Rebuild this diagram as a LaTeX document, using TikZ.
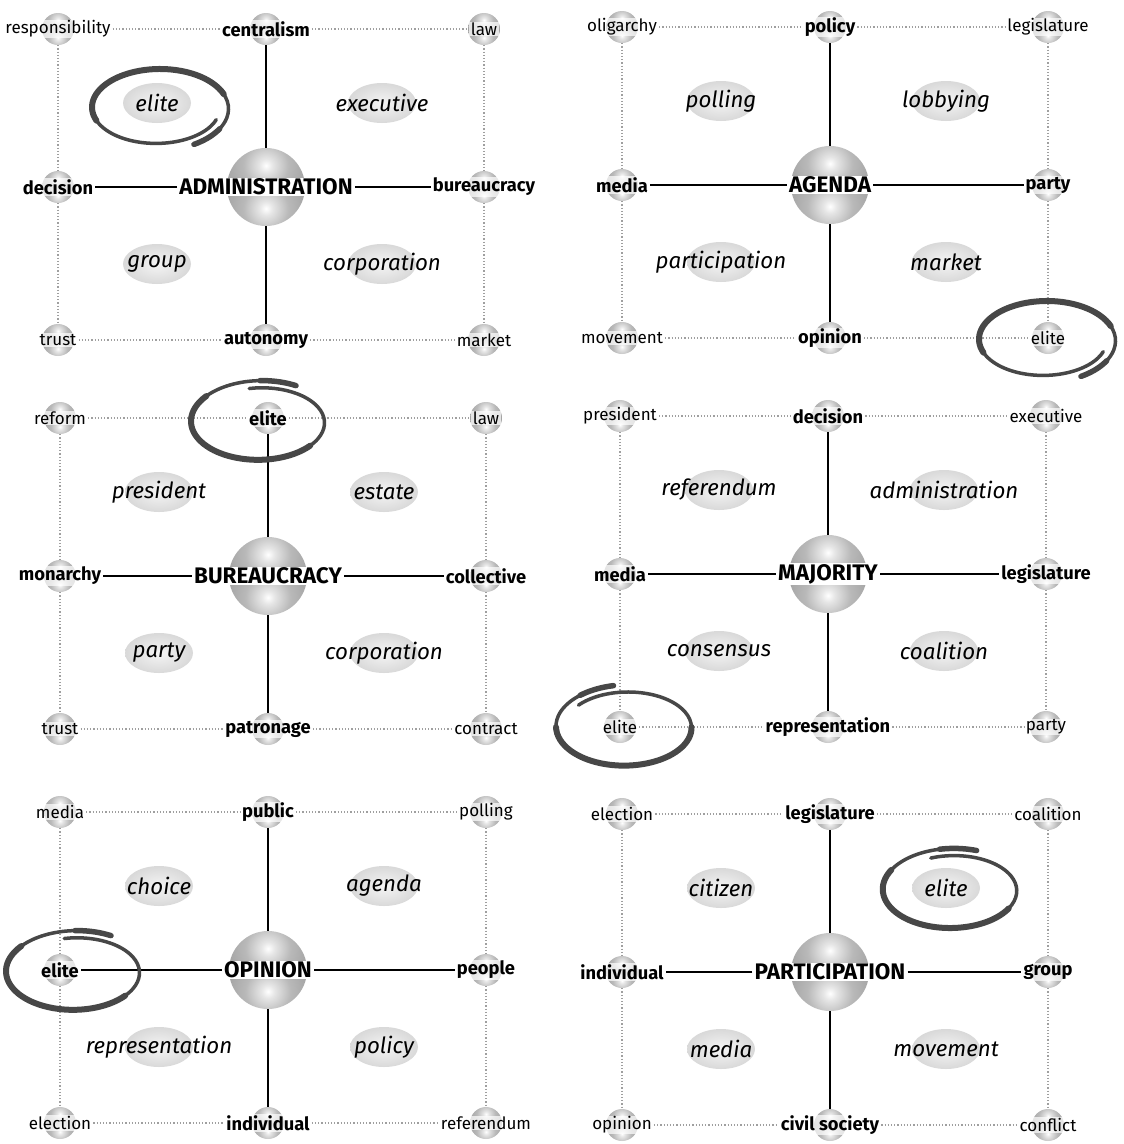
\documentclass[tikz,border=0pt]{standalone}
\usepackage{fontspec}
\setmainfont{Fira Sans}
\usetikzlibrary{calc,shapes.geometric}

% sphere lobe shading (one lobe above, one below the equator)
\pgfdeclareradialshading{glowball}{\pgfpoint{0bp}{0bp}}{color(0bp)=(white); color(3bp)=(white!80!gray); color(10bp)=(gray!55); color(20bp)=(gray!75); color(30bp)=(gray!90); color(50bp)=(gray!95)}

% sphere + label at one spot
\newcommand{\spot}[5]{%
  \node[#3] (#1b) at #2 {};
  \node[#4] (#1)  at #2 {#5};}

% centre, four spokes: #1 name, #2 position, #3 centre, #4 top, #5 right, #6 bottom, #7 left
\newcommand{\panel}[7]{%
  \coordinate (#1) at #2;
  \spot{#1c}{(#1)}{bigorb}{hw}{#3}
  \spot{#1n}{([shift={(0,-158)}]#1)}{orb}{kw}{#4}
  \spot{#1e}{([shift={(218,0)}]#1)}{orb}{kw}{#5}
  \spot{#1s}{([shift={(0,153)}]#1)}{orb}{kw}{#6}
  \spot{#1w}{([shift={(-208,0)}]#1)}{orb}{kw}{#7}
  \draw[spoke] (#1cb) -- (#1nb);
  \draw[spoke] (#1cb) -- (#1sb);
  \draw[spoke] (#1c) -- (#1e);
  \draw[spoke] (#1c) -- (#1w);}

% corners: #2 top left, #3 top right, #4 bottom right, #5 bottom left
\newcommand{\corners}[5]{%
  \spot{#1nw}{([shift={(-208,-158)}]#1)}{orb}{word}{#2}
  \spot{#1ne}{([shift={(218,-158)}]#1)}{orb}{word}{#3}
  \spot{#1se}{([shift={(218,153)}]#1)}{orb}{word}{#4}
  \spot{#1sw}{([shift={(-208,153)}]#1)}{orb}{word}{#5}
  \draw[dots] (#1nw) -- (#1n);
  \draw[dots] (#1n) -- (#1ne);
  \draw[dots] (#1sw) -- (#1s);
  \draw[dots] (#1s) -- (#1se);
  \draw[dots] (#1nwb) -- (#1wb);
  \draw[dots] (#1wb) -- (#1swb);
  \draw[dots] (#1neb) -- (#1eb);
  \draw[dots] (#1eb) -- (#1seb);}

% quadrant words
\newcommand{\quads}[5]{%
  \spot{#1qa}{([shift={(-109,-84)}]#1)}{blob}{soft}{#2}
  \spot{#1qb}{([shift={(116,-84)}]#1)}{blob}{soft}{#3}
  \spot{#1qc}{([shift={(-109,77)}]#1)}{blob}{soft}{#4}
  \spot{#1qd}{([shift={(116,77)}]#1)}{blob}{soft}{#5}}

% hand drawn loop: #1 centre, #2 start angle, #3 end angle
\newcommand{\scribble}[3]{%
  \begin{scope}[shift={#1}]
    \draw[scrawl] plot[smooth, variable=\t, domain=#2:#3, samples=70]
      ({(62+10*(\t-#2)/(#3-#2))*cos(\t)}, {(34+8*(\t-#2)/(#3-#2))*sin(\t)});
    \draw[scrawl, line width=6pt] plot[smooth, variable=\t, domain=#2+140:#2+320, samples=40]
      ({(62+10*(\t-#2)/(#3-#2))*cos(\t)}, {(34+8*(\t-#2)/(#3-#2))*sin(\t)});
    \draw[scrawl, line width=5.5pt] plot[smooth, variable=\t, domain=#3-30:#3, samples=10]
      ({(62+10*(\t-#2)/(#3-#2))*cos(\t)}, {(34+8*(\t-#2)/(#3-#2))*sin(\t)});
  \end{scope}}

\begin{document}
\begin{tikzpicture}[
  x=1pt, y=-1pt,
  orb/.style={circle, minimum size=#1, inner sep=0pt,
    path picture={
      \begin{scope}
        \clip (path picture bounding box.north west) rectangle (path picture bounding box.east);
        \shade[shading=glowball] ($(path picture bounding box.center)!0.55!(path picture bounding box.north)$) circle [radius=0.725*#1];
      \end{scope}
      \begin{scope}
        \clip (path picture bounding box.west) rectangle (path picture bounding box.south east);
        \shade[shading=glowball] ($(path picture bounding box.center)!0.55!(path picture bounding box.south)$) circle [radius=0.725*#1];
      \end{scope}}},
  orb/.default=32pt,
  bigorb/.style={orb=78pt},
  word/.style={fill=white, fill opacity=0.7, text opacity=1, inner xsep=2pt, inner ysep=1pt,
    font=\fontsize{17}{19}\selectfont},
  kw/.style={word, font=\fontsize{18.3}{20}\selectfont\bfseries},
  hw/.style={word, fill opacity=1, font=\fontsize{22.5}{24}\selectfont\bfseries},
  blob/.style={ellipse, minimum width=68pt, minimum height=40pt, inner sep=0pt,
    shading=radial, inner color=gray!8, outer color=gray!30},
  soft/.style={font=\fontsize{22.3}{24}\selectfont\itshape},
  spoke/.style={line width=1.5pt},
  dots/.style={gray!75, line width=1.2pt, dotted},
  scrawl/.style={black!72, line width=3.5pt, line cap=round},
]
\useasboundingbox (0,0) rectangle (1124,1144);

%==== top left ====
\panel{pa}{(266,187)}{ADMINISTRATION}{centralism}{bureaucracy}{autonomy}{decision}
\quads{pa}{elite}{executive}{group}{corporation}
\corners{pa}{responsibility}{law}{market}{trust}
\scribble{(158,108)}{20}{420}

%==== top right ====
\panel{pb}{(830,185)}{AGENDA}{policy}{party}{opinion}{media}
\quads{pb}{polling}{lobbying}{participation}{market}
\corners{pb}{oligarchy}{legislature}{elite}{movement}
\scribble{(1045,340)}{20}{420}

%==== middle left ====
\panel{pc}{(268,576)}{BUREAUCRACY}{elite}{collective}{patronage}{monarchy}
\quads{pc}{president}{estate}{party}{corporation}
\corners{pc}{reform}{law}{contract}{trust}
\scribble{(260,422)}{-100}{300}

%==== middle right ====
\panel{pd}{(828,574)}{MAJORITY}{decision}{legislature}{representation}{media}
\quads{pd}{referendum}{administration}{consensus}{coalition}
\corners{pd}{president}{executive}{party}{elite}
\scribble{(626,727)}{-140}{260}

%==== bottom left ====
\panel{pe}{(268,970)}{OPINION}{public}{people}{individual}{elite}
\quads{pe}{choice}{agenda}{representation}{policy}
\corners{pe}{media}{polling}{referendum}{election}
\scribble{(75,972)}{-100}{300}

%==== bottom right ====
\panel{pf}{(830,972)}{PARTICIPATION}{legislature}{group}{civil society}{individual}
\quads{pf}{citizen}{elite}{media}{movement}
\corners{pf}{election}{coalition}{conflict}{opinion}
\scribble{(952,890)}{-110}{290}

\end{tikzpicture}
\end{document}
